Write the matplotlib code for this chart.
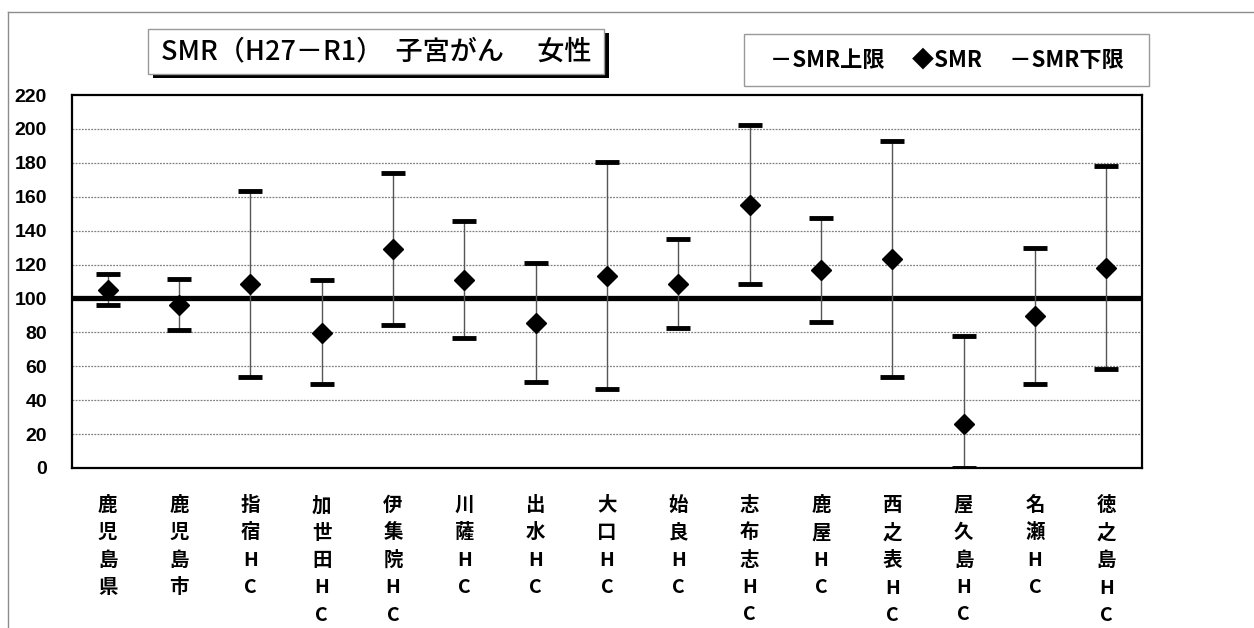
import matplotlib
matplotlib.use("Agg")
import matplotlib.pyplot as plt
from matplotlib.patches import Rectangle
from matplotlib.lines import Line2D

plt.rcParams['font.family'] = ['Noto Sans CJK JP', 'DejaVu Sans']

categories = ["鹿児島県", "鹿児島市", "指宿HC", "加世田HC", "伊集院HC", "川薩HC", "出水HC",
              "大口HC", "始良HC", "志布志HC", "鹿屋HC", "西之表HC", "屋久島HC", "名瀬HC", "徳之島HC"]
smr_upper = [114.5, 111.5, 163.6, 110.7, 173.9, 145.7, 120.8, 180.7, 134.9, 202.6, 147.3, 193.1, 77.7, 130.0, 178.0]
smr = [105.0, 96.0, 108.5, 79.8, 129.0, 111.0, 85.5, 113.5, 108.5, 155.4, 116.6, 123.1, 26.2, 89.7, 118.0]
smr_lower = [96.0, 81.4, 53.7, 49.4, 84.4, 76.7, 50.5, 46.4, 82.4, 108.4, 86.1, 53.5, 0.2, 49.4, 58.4]
yticks = list(range(0, 221, 20))
title = "SMR（H27－R1）  子宮がん　 女性"
legend_text = "－SMR上限　 ◆SMR　 －SMR下限"

W, H = 1254, 628
fig = plt.figure(figsize=(W / 100, H / 100), dpi=100)
fig.patch.set_facecolor('white')

# outer chart border (top & left visible)
fig.add_artist(Line2D([8 / W, 1.0], [1 - 12 / H, 1 - 12 / H], transform=fig.transFigure, color='#8c8c8c', lw=1))
fig.add_artist(Line2D([8 / W, 8 / W], [0, 1 - 12 / H], transform=fig.transFigure, color='#8c8c8c', lw=1))

ax = fig.add_axes([72 / W, (H - 468) / H, (1142 - 72) / W, (468 - 95) / H])
x = list(range(len(categories)))

ax.set_xlim(-0.5, len(categories) - 0.5)
ax.set_ylim(0, 220)
ax.set_yticks(yticks)
ax.set_yticklabels([str(v) for v in yticks], fontsize=14, fontweight='bold', family=['Liberation Sans', 'DejaVu Sans'])
for v in yticks[1:-1]:
    ax.axhline(v, color='#808080', lw=0.9, ls=(0, (1.5, 1)), zorder=1)
ax.axhline(100, color='black', lw=3.8, zorder=2)

ax.vlines(x, smr_lower, smr_upper, color='#555555', lw=1.0, zorder=3)
ax.plot(x, smr_upper, ls='none', marker='_', ms=17, mew=3.5, color='black', zorder=4)
ax.plot(x, smr_lower, ls='none', marker='_', ms=17, mew=3.5, color='black', zorder=4)
ax.plot(x, smr, ls='none', marker='D', ms=10.5, color='black', zorder=5)

ax.set_xticks(x)
ax.set_xticklabels(["\n".join(c) for c in categories], fontsize=14, fontweight='bold',
                   va='top', linespacing=1.56)
ax.tick_params(axis='both', length=0)
ax.tick_params(axis='y', pad=18)
ax.tick_params(axis='x', pad=20)
for s in ax.spines.values():
    s.set_linewidth(1.6)
    s.set_color('black')

# title box with shadow
tx0, ty0, tx1, ty1 = 148, 29, 604, 74
fig.add_artist(Rectangle(((tx0 + 5) / W, 1 - (ty1 + 4) / H), (tx1 - tx0) / W, (ty1 - ty0) / H,
                         transform=fig.transFigure, facecolor='black', edgecolor='none'))
fig.add_artist(Rectangle((tx0 / W, 1 - ty1 / H), (tx1 - tx0) / W, (ty1 - ty0) / H,
                         transform=fig.transFigure, facecolor='white', edgecolor='#999999', lw=1))
fig.text((tx0 + tx1) / 2 / W, 1 - (ty0 + ty1) / 2 / H, title, ha='center', va='center',
         fontsize=19.5, fontweight='medium')

# legend box
lx0, ly0, lx1, ly1 = 744, 34, 1149, 86
fig.add_artist(Rectangle((lx0 / W, 1 - ly1 / H), (lx1 - lx0) / W, (ly1 - ly0) / H,
                         transform=fig.transFigure, facecolor='white', edgecolor='#999999', lw=1))
fig.text((lx0 + lx1) / 2 / W, 1 - (ly0 + ly1) / 2 / H, legend_text, ha='center', va='center',
         fontsize=16, fontweight='bold')

fig.savefig("out.png", dpi=100)
